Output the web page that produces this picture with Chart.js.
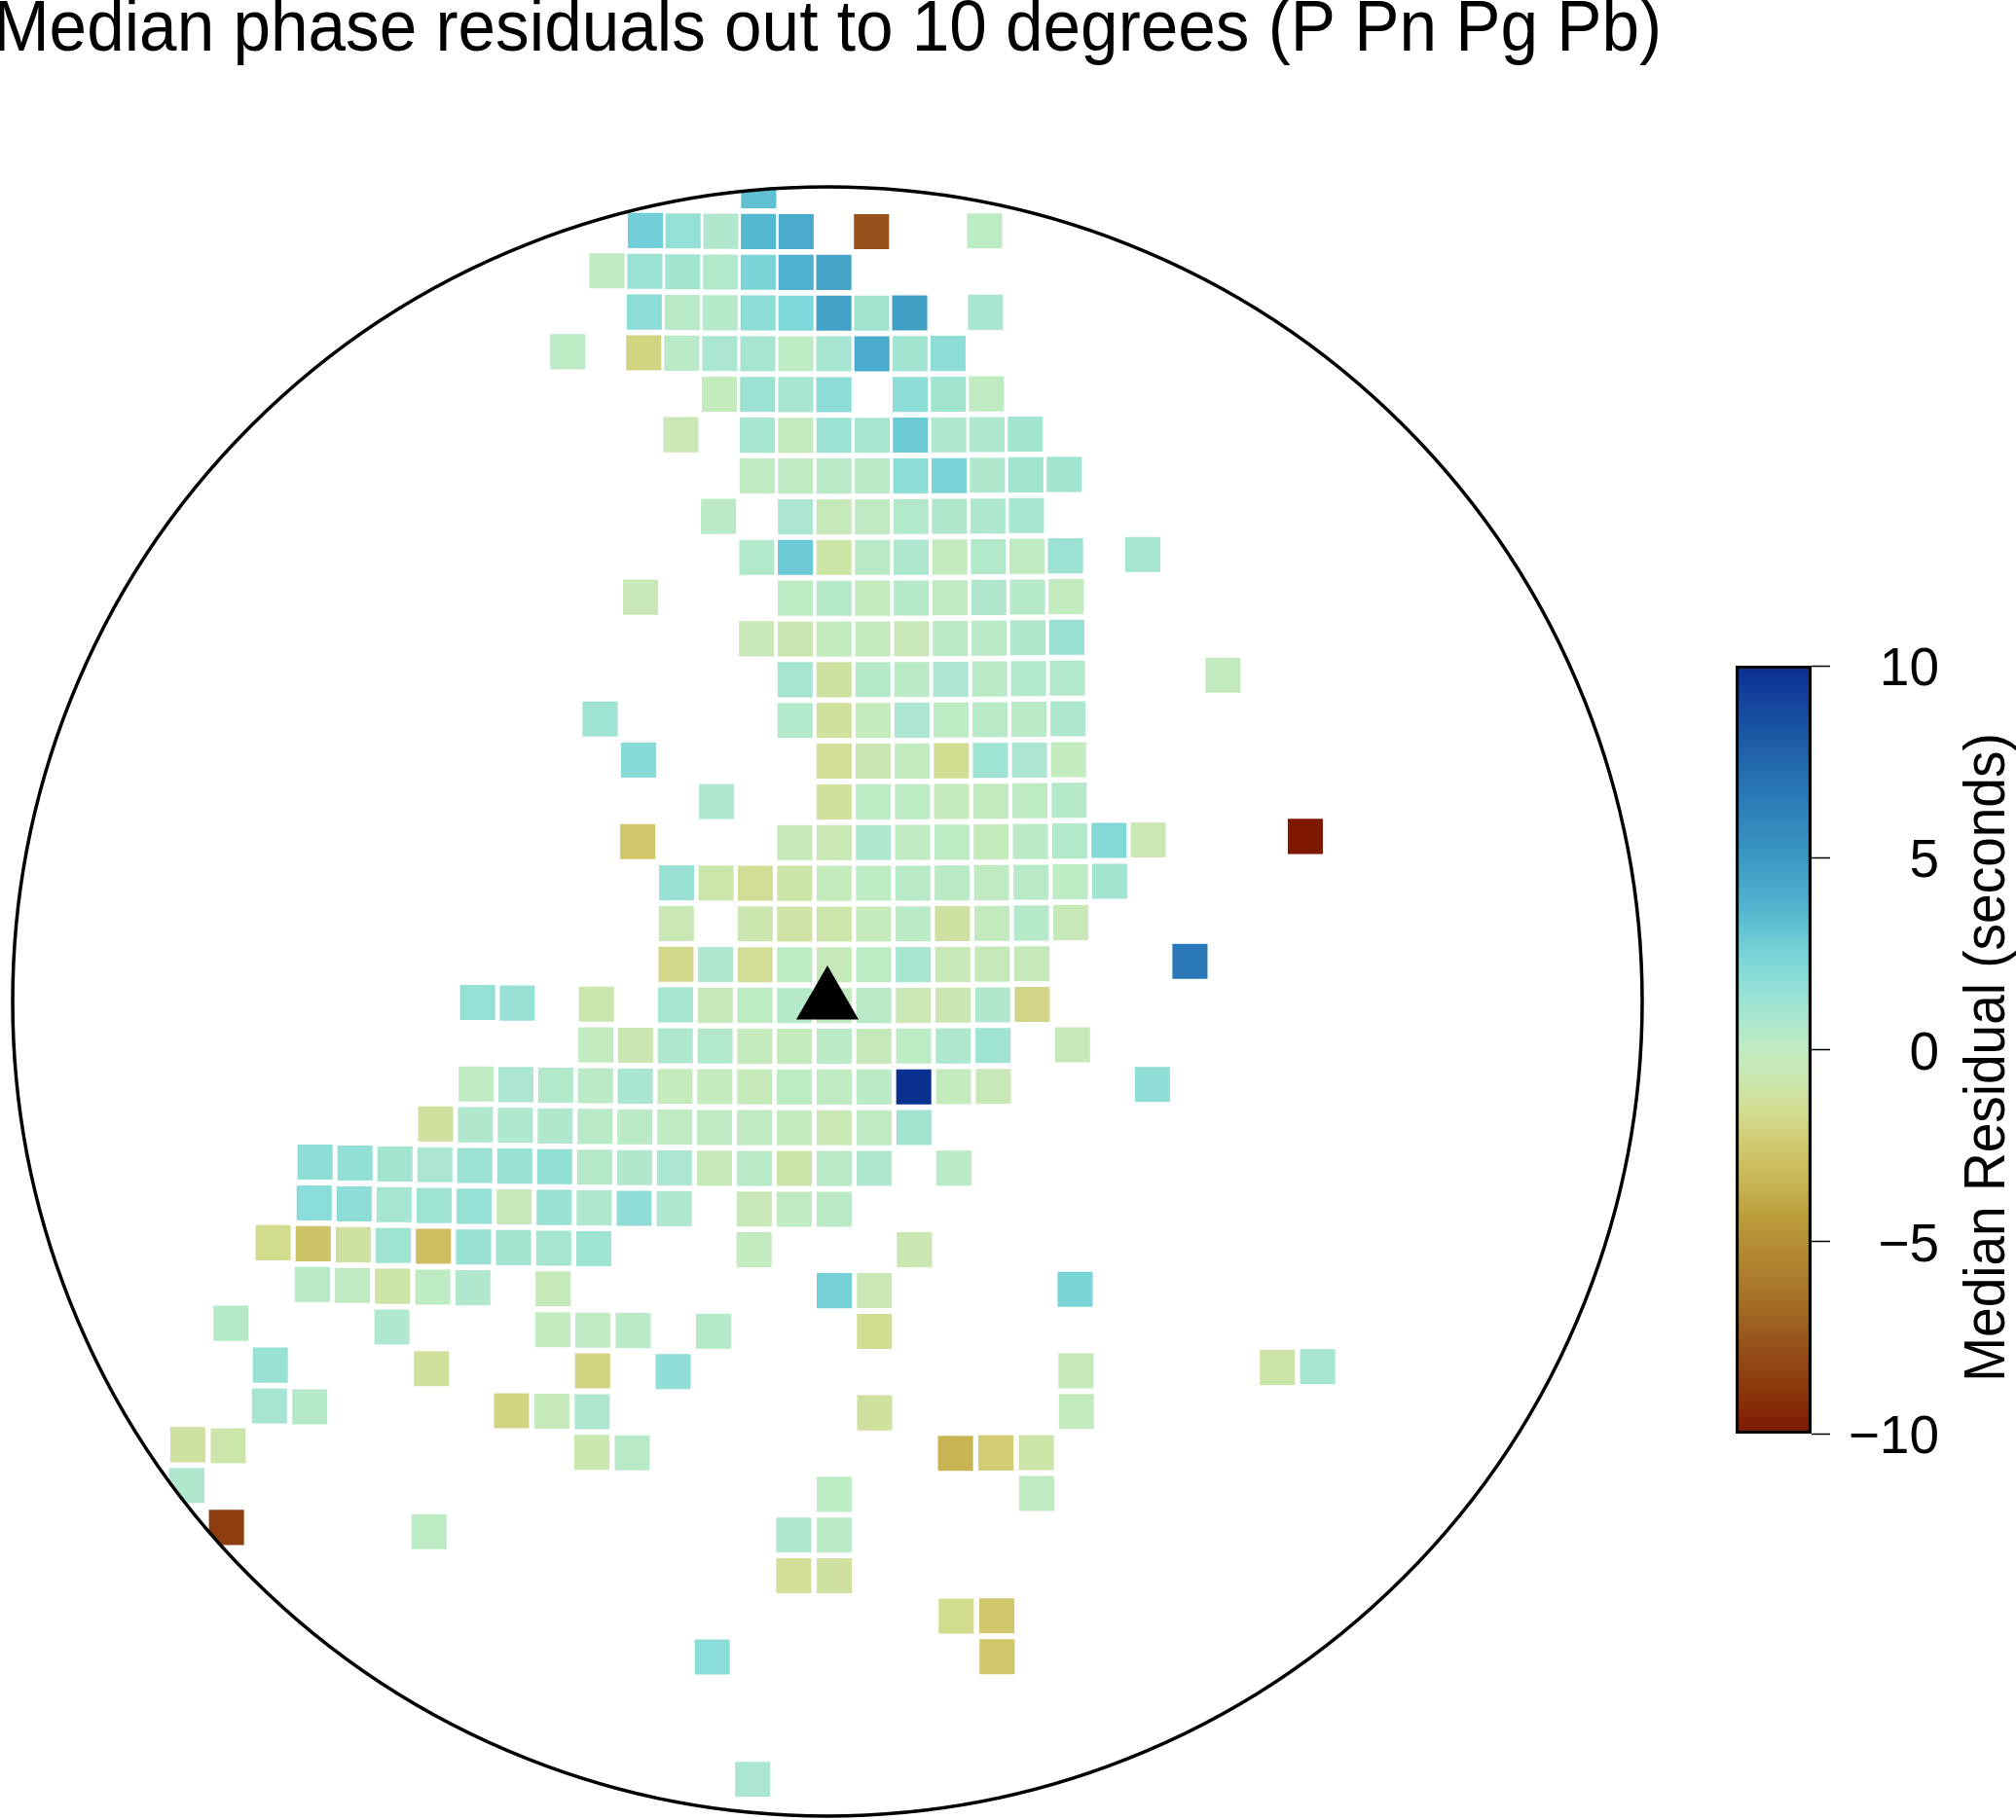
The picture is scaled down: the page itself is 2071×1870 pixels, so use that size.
<!DOCTYPE html>
<html>
<head>
<meta charset="utf-8">
<title>Median phase residuals</title>
<script src="https://cdn.jsdelivr.net/npm/chart.js@4/dist/chart.umd.js"></script>
<style>
    html, body { margin: 0; padding: 0; background: #fff; width: 2071px; height: 1870px; overflow: hidden; }
    canvas { position: absolute; top: 0; }
    #map { left: -50px; }
    #bar { left: 1700px; }
</style>
</head>
<body>
<canvas id="map" width="1800" height="1870"></canvas>
<canvas id="bar" width="371" height="1870"></canvas>
<script>
// Station and grid, degrees
const stationLat = 13.5;
const binSize = 0.5;
const rowOffset = -0.05;
const colOffset = 0.085;

// Grid rows north of the station, with the columns filled in each row
const gridRows = [20, 19, 18, 17, 16, 15, 14, 13, 12, 11, 10, 9, 8, 7, 6, 5, 4, 3, 2, 1, 0,
    -1, -2, -3, -4, -5, -6, -7, -8, -9, -10, -11, -12, -13, -14, -15, -16, -19];

const gridCols = [
    [-2],
    [-5, -4, -3, -2, -1, 1, 4],
    [-6, -5, -4, -3, -2, -1, 0],
    [-5, -4, -3, -2, -1, 0, 1, 2, 4],
    [-7, -5, -4, -3, -2, -1, 0, 1, 2, 3],
    [-3, -2, -1, 0, 2, 3, 4],
    [-4, -2, -1, 0, 1, 2, 3, 4, 5],
    [-2, -1, 0, 1, 2, 3, 4, 5, 6],
    [-3, -1, 0, 1, 2, 3, 4, 5],
    [-2, -1, 0, 1, 2, 3, 4, 5, 6, 8],
    [-5, -1, 0, 1, 2, 3, 4, 5, 6],
    [-2, -1, 0, 1, 2, 3, 4, 5, 6],
    [-1, 0, 1, 2, 3, 4, 5, 6, 10],
    [-6, -1, 0, 1, 2, 3, 4, 5, 6],
    [-5, 0, 1, 2, 3, 4, 5, 6],
    [-3, 0, 1, 2, 3, 4, 5, 6],
    [-5, -1, 0, 1, 2, 3, 4, 5, 6, 7, 8, 12],
    [-4, -3, -2, -1, 0, 1, 2, 3, 4, 5, 6, 7],
    [-4, -2, -1, 0, 1, 2, 3, 4, 5, 6],
    [-4, -3, -2, -1, 0, 1, 2, 3, 4, 5, 9],
    [-9, -8, -6, -4, -3, -2, -1, 0, 1, 2, 3, 4, 5],
    [-6, -5, -4, -3, -2, -1, 0, 1, 2, 3, 4, 6],
    [-9, -8, -7, -6, -5, -4, -3, -2, -1, 0, 1, 2, 3, 4, 8],
    [-10, -9, -8, -7, -6, -5, -4, -3, -2, -1, 0, 1, 2],
    [-13, -12, -11, -10, -9, -8, -7, -6, -5, -4, -3, -2, -1, 0, 1, 3],
    [-13, -12, -11, -10, -9, -8, -7, -6, -5, -4, -2, -1, 0],
    [-14, -13, -12, -11, -10, -9, -8, -7, -6, -2, 2],
    [-13, -12, -11, -10, -9, -7, 0, 1, 6],
    [-15, -11, -7, -6, -5, -3, 1],
    [-14, -10, -6, -4, 6, 11, 12],
    [-14, -13, -8, -7, -6, 1, 6],
    [-16, -15, -6, -5, 3, 4, 5],
    [-16, 0, 5],
    [-15, -10, -1, 0],
    [-1, 0],
    [3, 4],
    [-3, 4],
    [-2],
];

// Median residual in seconds, same layout as gridCols
const residuals = [
    [3.3],
    [2.7, 1.5, 0.6, 3.6, 4.2, -7.7, 0.1],
    [0.0, 1.3, 1.1, 0.5, 2.4, 3.9, 4.4],
    [1.8, 0.3, 0.4, 1.8, 2.3, 4.6, 1.1, 4.7, 0.9],
    [0.1, -2.0, 0.3, 0.8, 1.0, 0.1, 1.0, 4.2, 1.1, 1.8],
    [-0.3, 1.3, 0.9, 1.8, 1.8, 1.1, 0.0],
    [-0.6, 1.0, -0.2, 1.3, 0.9, 2.9, 0.7, 0.7, 1.1],
    [0.0, 0.0, 0.3, 0.3, 1.8, 2.5, 0.6, 1.1, 1.1],
    [0.2, 0.8, -0.4, 0.0, 0.5, 0.6, 0.7, 1.0],
    [0.5, 2.9, -1.0, 0.3, 0.7, -0.2, 0.5, 0.0, 1.3, 1.0],
    [-0.5, 0.1, 0.4, -0.1, 0.4, 0.0, 0.6, 0.4, -0.1],
    [-0.5, -0.7, -0.1, -0.2, -0.5, 0.2, 0.3, 0.6, 1.4],
    [1.0, -1.2, 0.4, 0.2, 0.8, 0.3, 0.5, 0.5, -0.2],
    [1.2, 0.5, -1.3, -0.3, 0.8, 0.1, 0.3, 0.3, 0.7],
    [2.0, -1.4, -0.7, -0.1, -1.6, 1.2, 0.8, -0.1],
    [0.7, -1.3, 0.1, 0.1, -0.3, -0.2, 0.1, 0.4],
    [-2.7, -0.4, -0.6, 0.7, 0.0, 0.1, -0.3, 0.2, 0.5, 2.2, -0.6, -10],
    [1.4, -0.9, -1.5, -1.0, -0.3, 0.1, 0.3, 0.2, 0.0, 0.3, 0.1, 1.1],
    [-0.6, -0.8, -1.1, -0.9, -0.3, 0.2, -1.2, -0.2, 0.4, -0.5],
    [-1.8, 0.7, -1.5, 0.1, -0.4, 0.1, 0.9, -0.5, -0.4, -0.4, 6.7],
    [1.5, 1.4, -0.8, 1.0, -0.4, 0.1, 0.4, -0.2, 0.3, -0.6, -0.7, 0.6, -1.9],
    [-0.1, -0.7, 0.7, 0.5, -0.3, -0.3, 0.2, -0.4, 0.1, 0.7, 1.2, -0.4],
    [0.0, 0.8, 0.5, 0.2, 0.9, -0.3, -0.3, -0.4, 0.1, 0.0, 0.2, 10, -0.3, -0.5, 1.7],
    [-1.3, 0.6, 0.7, 0.6, 0.3, 0.2, 0.0, 0.0, 0.0, -0.1, -0.6, 0.0, 1.1],
    [1.8, 1.6, 1.1, 0.8, 1.3, 1.4, 1.6, 0.4, 0.6, 0.8, -0.4, 0.3, -1.0, 0.3, 0.7, 0.2],
    [1.9, 1.8, 1.0, 1.2, 1.5, -0.5, 1.4, 0.7, 1.7, 0.7, -0.5, 0.0, 0.2],
    [-1.7, -2.8, -1.2, 1.2, -3.0, 1.4, 1.1, 1.0, 1.2, -0.1, -0.7],
    [0.3, 0.0, -1.0, 0.1, 0.6, -0.4, 2.6, -0.6, 2.4],
    [0.4, 0.7, -0.1, 0.0, 0.2, 0.4, -1.6],
    [1.4, -1.3, -2.0, 1.7, -0.4, -1.0, 1.0],
    [1.0, 0.4, -2.0, -0.4, 0.7, -1.3, -0.2],
    [-1.2, -0.9, -0.8, 0.3, -3.5, -2.4, -1.0],
    [0.6, 0.1, 0.0],
    [-8.6, 0.1, 0.7, 0.2],
    [-1.4, -1.2],
    [-1.7, -2.6],
    [1.9, -2.7],
    [0.8],
];

// Colour scale
const scaleStops = [-10, -9, -7.7, -6.3, -5, -4.3, -3.5, -2.5, -1.6, -0.6, 0, 0.7, 1.7, 2.5, 3.7, 5, 6.6, 7.9, 9.25, 10];
const scaleColors = ["#7e1700", "#8a340c", "#96521a", "#a8752a", "#b58f35", "#bd9e3e", "#c8b453", "#d1c96e", "#d3dd92", "#c9e8b5",
    "#c0ebc2", "#aee8cf", "#8fded6", "#78d4d8", "#52b5d0", "#3a98c2", "#2b7ab8", "#1f5fa8", "#12409a", "#0a3090"];

const titleText = "Median phase residuals out to 10 degrees (P Pn Pg Pb)";
const barTitle = "Median Residual (seconds)";
const fontName = "'Liberation Sans', Arial, sans-serif";

function hexToRgb(hex) {
    return [1, 3, 5].map(function (i) {
        return parseInt(hex.slice(i, i + 2), 16);
    });
}

function colorFor(value) {
    let i = 0;
    while (i < scaleStops.length - 2 && value > scaleStops[i + 1]) i++;
    const t = Math.min(1, Math.max(0, (value - scaleStops[i]) / (scaleStops[i + 1] - scaleStops[i])));
    const a = hexToRgb(scaleColors[i]);
    const b = hexToRgb(scaleColors[i + 1]);
    const c = a.map(function (v, k) {
        return Math.round(v + (b[k] - v) * t);
    });
    return `rgb(${c[0]},${c[1]},${c[2]})`;
}

// azimuthal equidistant around the station, result in degrees
function project(row, col) {
    const rad = Math.PI / 180;
    const lat0 = stationLat * rad;
    const lat = (stationLat + rowOffset + row * binSize) * rad;
    const dLon = (colOffset + col * binSize) * rad;
    const cosC = Math.sin(lat0) * Math.sin(lat) + Math.cos(lat0) * Math.cos(lat) * Math.cos(dLon);
    const c = Math.acos(cosC);
    const k = c === 0 ? 1 : c / Math.sin(c);
    return {
        x: (k * Math.cos(lat) * Math.sin(dLon)) / rad,
        y: (k * (Math.cos(lat0) * Math.sin(lat) - Math.sin(lat0) * Math.cos(lat) * Math.cos(dLon))) / rad,
    };
}

const cellPoints = [];
const cellColors = [];
gridRows.forEach(function (row, i) {
    gridCols[i].forEach(function (col, j) {
        cellPoints.push(project(row, col));
        cellColors.push(colorFor(residuals[i][j]));
    });
});

// text drawn a little taller than wide, like the original png
function drawText(ctx, text, size, x, y, angle) {
    ctx.save();
    ctx.translate(x, y);
    ctx.rotate(angle);
    ctx.scale(1, 1.08);
    ctx.fillStyle = "#000";
    ctx.font = size + "px " + fontName;
    ctx.textAlign = "center";
    ctx.textBaseline = "alphabetic";
    ctx.fillText(text, 0, 0);
    ctx.restore();
}

// clips the cells to the 10 degree circle, then draws the circle and the title
const circlePlugin = {
    id: "circle",
    beforeDatasetsDraw(chart) {
        const ctx = chart.ctx;
        const { x, y } = chart.scales;
        ctx.save();
        ctx.beginPath();
        ctx.arc(x.getPixelForValue(0), y.getPixelForValue(0), x.getPixelForValue(10) - x.getPixelForValue(0), 0, Math.PI * 2);
        ctx.clip();
    },
    afterDatasetsDraw(chart) {
        const ctx = chart.ctx;
        const { x, y } = chart.scales;
        ctx.restore();
        ctx.beginPath();
        ctx.arc(x.getPixelForValue(0), y.getPixelForValue(0), x.getPixelForValue(10) - x.getPixelForValue(0), 0, Math.PI * 2);
        ctx.strokeStyle = "#000";
        ctx.lineWidth = 3.5;
        ctx.stroke();
        drawText(ctx, titleText, 69.3, x.getPixelForValue(0), 52, 0);
    },
};

// right axis titles in Chart.js read downwards, this one reads upwards
const barTitlePlugin = {
    id: "barTitle",
    afterDraw(chart) {
        drawText(chart.ctx, barTitle, 55, 359, chart.scales.y.getPixelForValue(0) + 8, -Math.PI / 2);
    },
};

new Chart("map", {
    type: "scatter",
    plugins: [circlePlugin],
    data: {
        datasets: [
            {
                label: "Station",
                data: [{ x: 0, y: 0 }],
                pointStyle: "triangle",
                pointRadius: 37,
                pointBackgroundColor: "#000",
                pointBorderWidth: 0,
            },
            {
                label: "Residuals",
                data: cellPoints,
                pointStyle: "rect",
                pointRadius: 25.5,
                pointBackgroundColor: cellColors,
                pointBorderWidth: 0,
            },
        ],
    },
    options: {
        responsive: false,
        animation: false,
        layout: { autoPadding: false, padding: { left: 63, right: 63, top: 192, bottom: 4 } },
        scales: {
            x: { display: false, min: -10, max: 10 },
            y: { display: false, min: -10, max: 10 },
        },
        plugins: {
            legend: { display: false },
            tooltip: { enabled: false },
        },
    },
});

new Chart("bar", {
    type: "bar",
    plugins: [barTitlePlugin],
    data: {
        labels: [""],
        datasets: [
            {
                data: [[-10, 10]],
                barPercentage: 1,
                categoryPercentage: 1,
                borderColor: "#000",
                borderWidth: 3.5,
                borderSkipped: false,
                backgroundColor: function (context) {
                    const chart = context.chart;
                    if (!chart.chartArea) return "#fff";
                    const y = chart.scales.y;
                    const gradient = chart.ctx.createLinearGradient(0, y.getPixelForValue(-10), 0, y.getPixelForValue(10));
                    scaleStops.forEach(function (stop, i) {
                        gradient.addColorStop((stop + 10) / 20, scaleColors[i]);
                    });
                    return gradient;
                },
            },
        ],
    },
    options: {
        responsive: false,
        animation: false,
        layout: { padding: { left: 83, right: 79, top: 684, bottom: 397 } },
        scales: {
            x: { display: false },
            y: {
                position: "right",
                min: -10,
                max: 10,
                afterFit: function (scale) {
                    scale.width = 131;
                },
                border: { display: false },
                grid: { drawOnChartArea: false, drawTicks: true, tickLength: 19, tickColor: "#000", tickWidth: 1.5 },
                ticks: {
                    stepSize: 5,
                    color: "#000",
                    padding: 14,
                    crossAlign: "far",
                    labelOffset: 5,
                    font: { family: fontName, size: 55 },
                    callback: function (value) {
                        return String(value).replace("-", "\u2212");
                    },
                },
            },
        },
        plugins: {
            legend: { display: false },
            tooltip: { enabled: false },
        },
    },
});
</script>
</body>
</html>
